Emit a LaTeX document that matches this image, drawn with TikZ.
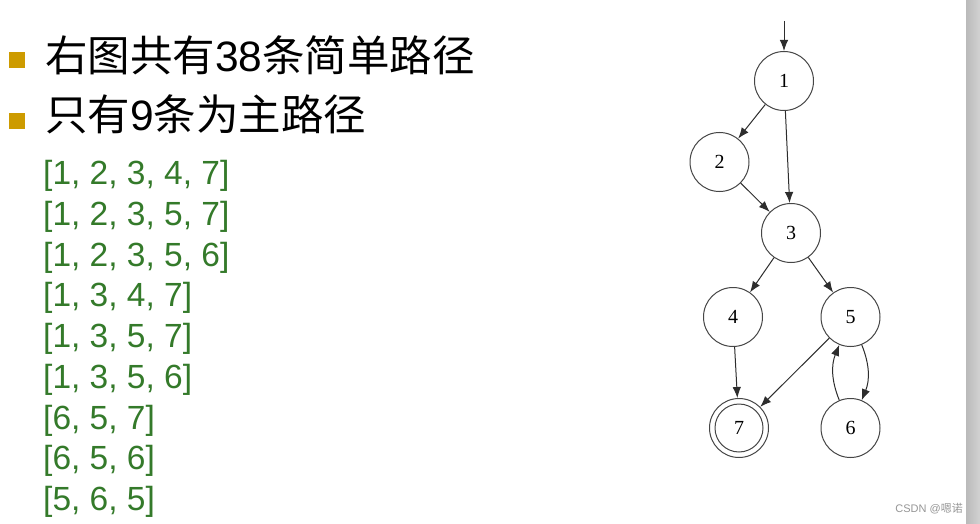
\documentclass[tikz,border=0pt]{standalone}
\usepackage{fontspec}
\setmainfont{Liberation Sans}
\newfontfamily\cjk{Noto Sans CJK SC}
\newfontfamily\tnr{Liberation Serif}
\usetikzlibrary{arrows.meta}
\definecolor{bulletgold}{RGB}{205,155,0}
\definecolor{pathgreen}{RGB}{52,122,42}
\definecolor{nodeline}{RGB}{70,70,70}
\definecolor{edgeline}{RGB}{45,45,45}
\tikzset{
  title/.style={anchor=base west, inner sep=0pt, font=\fontsize{42.5}{42.5}\selectfont},
  bulletbox/.style={fill=bulletgold, draw=none, minimum size=16pt, inner sep=0pt},
  pathtext/.style={anchor=base west, inner sep=0pt, text=pathgreen, font=\fontsize{33.5}{33.5}\selectfont},
  vertex/.style={circle, draw=nodeline, line width=1pt, minimum size=59pt, inner sep=0pt, font=\tnr\fontsize{20}{20}\selectfont},
  edge/.style={draw=edgeline, line width=1pt, -{Latex[length=11pt,width=8.5pt]}},
}
\begin{document}
\begin{tikzpicture}[x=1pt,y=-1pt]
\useasboundingbox (0,0) rectangle (980,524);
\fill[white] (0,0) rectangle (980,524);
\shade[left color={rgb,255:red,186;green,186;blue,186}, right color={rgb,255:red,210;green,210;blue,210}] (966,0) rectangle (980,524);

% bullets and titles
\node[bulletbox] (b1) at (17,60) {};
\node[bulletbox] (b2) at (17,121) {};
\node[title] (t1) at (45,72) {{\cjk 右图共有}38{\cjk 条简单路径}};
\node[title] (t2) at (45,131) {{\cjk 只有}9{\cjk 条为主路径}};

% path list
\node[pathtext] (p1) at (43,184.5) {[1, 2, 3, 4, 7]};
\node[pathtext] (p2) at (43,225.2) {[1, 2, 3, 5, 7]};
\node[pathtext] (p3) at (43,266) {[1, 2, 3, 5, 6]};
\node[pathtext] (p4) at (43,306.7) {[1, 3, 4, 7]};
\node[pathtext] (p5) at (43,347.5) {[1, 3, 5, 7]};
\node[pathtext] (p6) at (43,388.2) {[1, 3, 5, 6]};
\node[pathtext] (p7) at (43,429) {[6, 5, 7]};
\node[pathtext] (p8) at (43,469.7) {[6, 5, 6]};
\node[pathtext] (p9) at (43,510.5) {[5, 6, 5]};

% graph
\node[vertex] (n1) at (784,81) {1};
\node[vertex] (n2) at (719.5,162) {2};
\node[vertex] (n3) at (791,233) {3};
\node[vertex] (n4) at (733,317) {4};
\node[vertex] (n5) at (850.5,317) {5};
\node[vertex] (n7) at (739,428) {7};
\draw[draw=nodeline, line width=1pt] (n7.center) circle (24pt);
\node[vertex] (n6) at (850.5,428) {6};
\coordinate (entry) at (784,21);

\draw[edge] (entry) -- (n1);
\draw[edge] (n1) -- (n2);
\draw[edge] (n1) -- (n3);
\draw[edge] (n2) -- (n3);
\draw[edge] (n3) -- (n4);
\draw[edge] (n3) -- (n5);
\draw[edge] (n4) -- (n7);
\draw[edge] (n5) -- (n7);
\draw[edge] (n5.-68) to[bend left=22] (n6.68);
\draw[edge] (n6.112) to[bend left=22] (n5.-112);

% watermark
\node[anchor=base east, inner sep=0pt, text={rgb,255:red,150;green,150;blue,150}, font=\fontsize{11}{11}\selectfont] (wm) at (963,512) {CSDN @{\cjk 嗯诺}};
\end{tikzpicture}
\end{document}
